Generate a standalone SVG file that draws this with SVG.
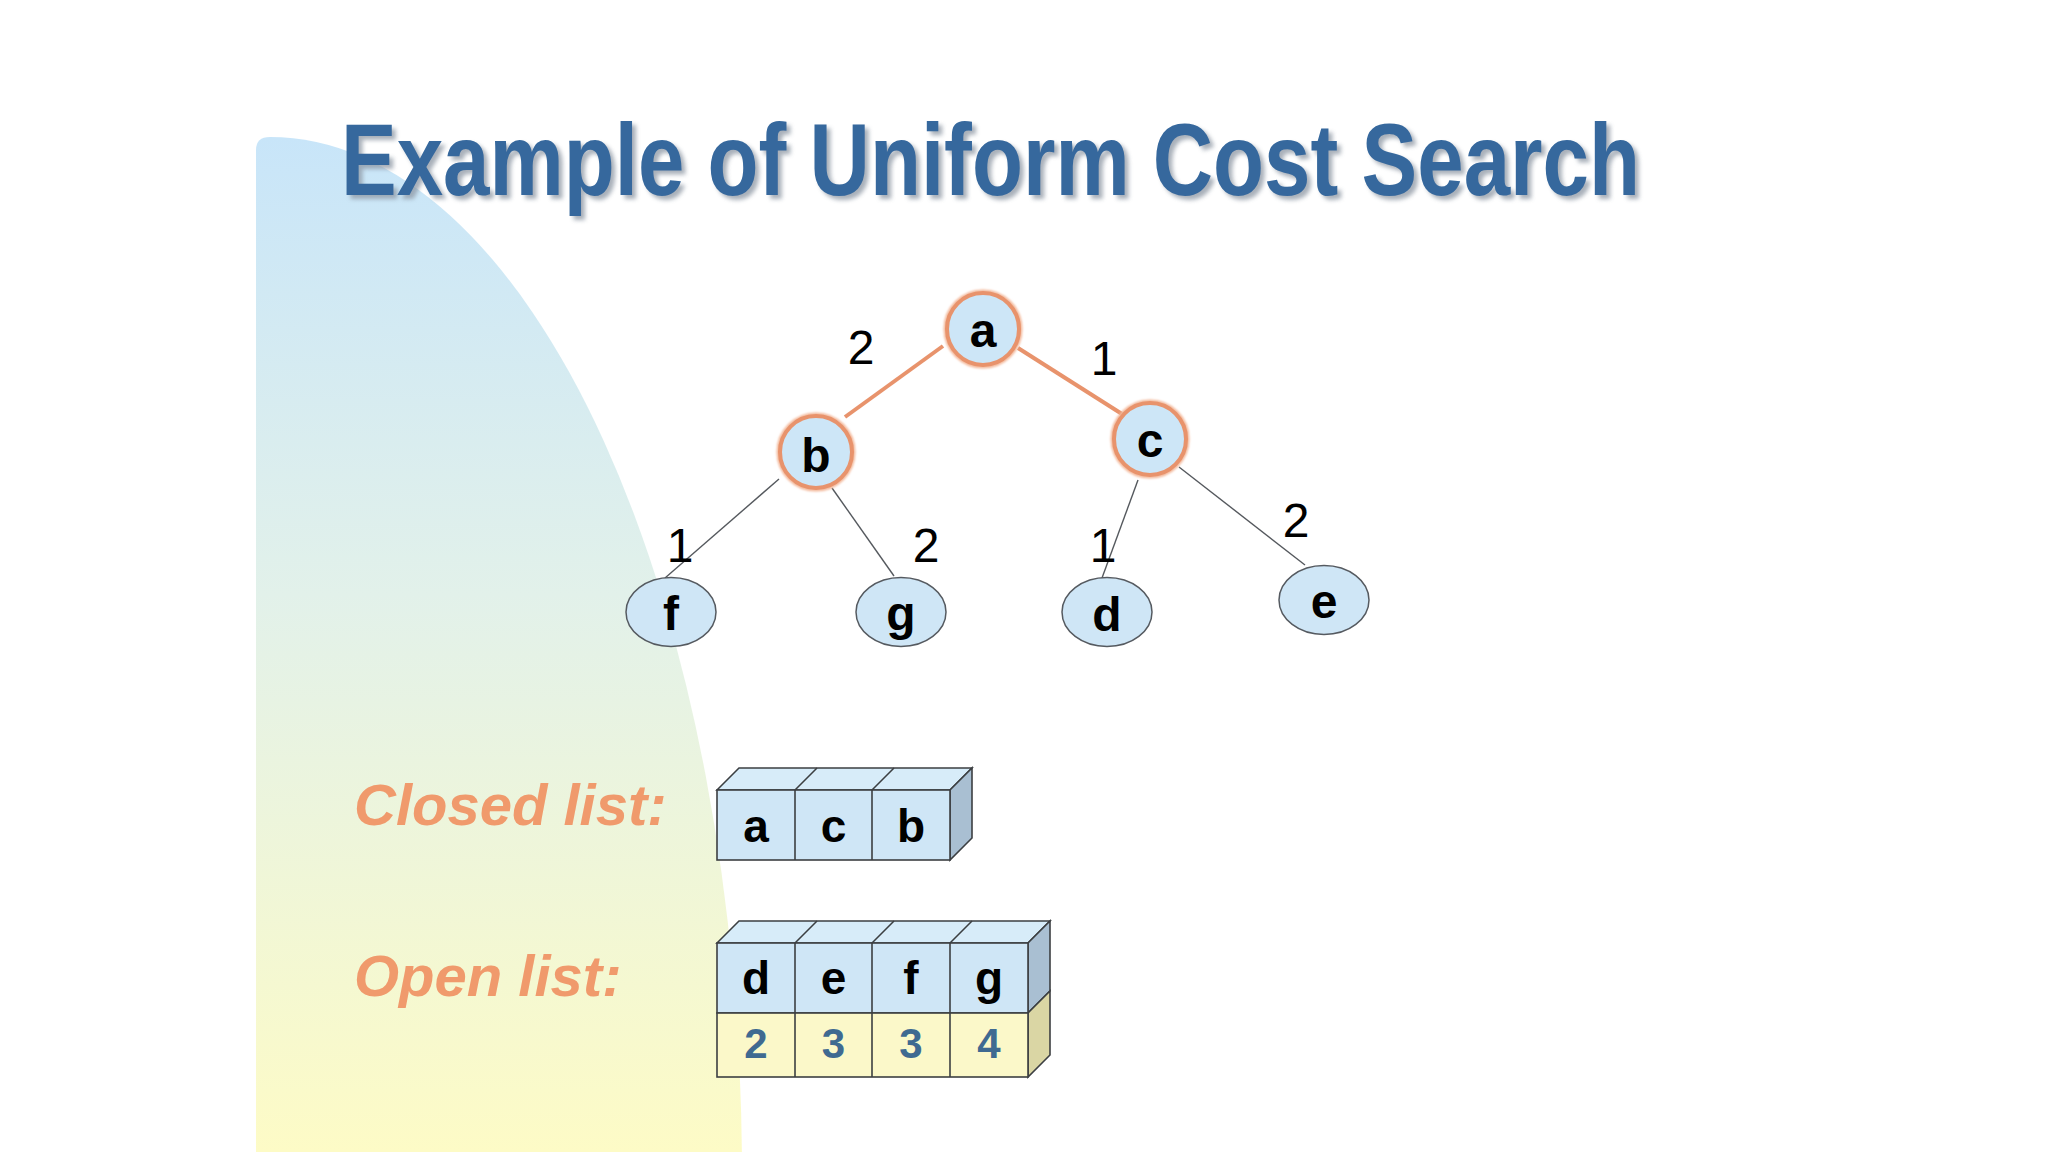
<svg xmlns="http://www.w3.org/2000/svg" width="2048" height="1152" viewBox="0 0 2048 1152">
  <defs>
    <linearGradient id="bgGrad" x1="0" y1="137" x2="0" y2="1152" gradientUnits="userSpaceOnUse">
      <stop offset="0" stop-color="#c8e5f9"/>
      <stop offset="0.45" stop-color="#e2f1ea"/>
      <stop offset="1" stop-color="#fdfbc6"/>
    </linearGradient>
    <filter id="shadowBlur" x="-5%" y="-20%" width="110%" height="140%">
      <feGaussianBlur stdDeviation="2"/>
    </filter>
    <filter id="glow" x="-30%" y="-30%" width="160%" height="160%">
      <feGaussianBlur stdDeviation="1.2"/>
    </filter>
  </defs>
  <style>
    .title { font-family: "Liberation Sans", Arial, sans-serif; font-weight: bold; font-size: 102px; }
    .node-closed { fill: #cde6f7; stroke: #e8936c; stroke-width: 4; }
    .node-open { fill: #cfe6f6; stroke: #555a60; stroke-width: 1.5; }
    .node-label { font-family: "Liberation Sans", Arial, sans-serif; font-weight: bold; font-size: 48px; fill: #000; text-anchor: middle; }
    .edge-label { font-family: "Liberation Sans", Arial, sans-serif; font-size: 48px; fill: #000; text-anchor: middle; }
    .edge-closed { stroke: #e8936c; stroke-width: 4; fill: none; }
    .edge-open { stroke: #55595e; stroke-width: 1.4; fill: none; }
    .list-label { font-family: "Liberation Sans", Arial, sans-serif; font-weight: bold; font-style: italic; font-size: 58px; fill: #f09a6c; }
    .cell-front { fill: #cfe6f6; stroke: #3c3f42; stroke-width: 1.6; }
    .cell-top { fill: #d7ecf9; stroke: #3c3f42; stroke-width: 1.6; }
    .cell-side { fill: #a9bfd2; stroke: #3c3f42; stroke-width: 1.6; }
    .cost-front { fill: #fbf8c9; stroke: #3c3f42; stroke-width: 1.6; }
    .cost-side { fill: #dad6a4; stroke: #3c3f42; stroke-width: 1.6; }
    .divider { stroke: #3c3f42; stroke-width: 1.6; fill: none; }
    .cell-letter { font-family: "Liberation Sans", Arial, sans-serif; font-weight: bold; font-size: 46px; fill: #000; text-anchor: middle; }
    .cost-num { font-family: "Liberation Sans", Arial, sans-serif; font-weight: bold; font-size: 42px; fill: #3f6a91; text-anchor: middle; }
  </style>

  <rect x="0" y="0" width="2048" height="1152" fill="#ffffff"/>
  <path id="background-shape" d="M256,1175 V150 Q256,137 270,137 A472,1038 0 0 1 742,1175 Z" fill="url(#bgGrad)"/>

  <g id="title">
    <text class="title" x="345" y="199" fill="#8c96a3" opacity="0.75" filter="url(#shadowBlur)" textLength="1299" lengthAdjust="spacingAndGlyphs">Example of Uniform Cost Search</text>
    <text class="title" x="341" y="195" fill="#36689d" textLength="1299" lengthAdjust="spacingAndGlyphs">Example of Uniform Cost Search</text>
  </g>

  <g id="connectors">
    <line class="edge-closed" x1="943" y1="346" x2="845" y2="417"/>
    <line class="edge-closed" x1="1018" y1="348" x2="1122" y2="414"/>
    <line class="edge-open" x1="779" y1="479" x2="665" y2="578"/>
    <line class="edge-open" x1="832" y1="488" x2="894" y2="576"/>
    <line class="edge-open" x1="1138" y1="480" x2="1102" y2="578"/>
    <line class="edge-open" x1="1179" y1="467" x2="1305" y2="565"/>
    <text class="edge-label" x="861" y="364">2</text>
    <text class="edge-label" x="1104" y="375">1</text>
    <text class="edge-label" x="680" y="562">1</text>
    <text class="edge-label" x="926" y="562">2</text>
    <text class="edge-label" x="1103" y="562">1</text>
    <text class="edge-label" x="1296" y="537">2</text>
  </g>

  <g id="node-a">
    <circle cx="983" cy="329" r="36" fill="none" stroke="#f3b89a" stroke-width="7" filter="url(#glow)"/>
    <circle class="node-closed" cx="983" cy="329" r="36"/>
    <text class="node-label" x="983" y="347">a</text>
  </g>
  <g id="node-b">
    <circle cx="816" cy="452" r="36" fill="none" stroke="#f3b89a" stroke-width="7" filter="url(#glow)"/>
    <circle class="node-closed" cx="816" cy="452" r="36"/>
    <text class="node-label" x="816" y="472">b</text>
  </g>
  <g id="node-c">
    <circle cx="1150" cy="439" r="36" fill="none" stroke="#f3b89a" stroke-width="7" filter="url(#glow)"/>
    <circle class="node-closed" cx="1150" cy="439" r="36"/>
    <text class="node-label" x="1150" y="457">c</text>
  </g>
  <g id="node-f">
    <ellipse class="node-open" cx="671" cy="612" rx="45" ry="34.5"/>
    <text class="node-label" x="671" y="630">f</text>
  </g>
  <g id="node-g">
    <ellipse class="node-open" cx="901" cy="612" rx="45" ry="34.5"/>
    <text class="node-label" x="901" y="630">g</text>
  </g>
  <g id="node-d">
    <ellipse class="node-open" cx="1107" cy="612" rx="45" ry="34.5"/>
    <text class="node-label" x="1107" y="631">d</text>
  </g>
  <g id="node-e">
    <ellipse class="node-open" cx="1324" cy="600" rx="45" ry="34.5"/>
    <text class="node-label" x="1324" y="618">e</text>
  </g>

  <g id="closed-list">
    <text class="list-label" x="354" y="825">Closed list:</text>
    <polygon class="cell-top" points="717,790 739,768 972,768 950,790"/>
    <polygon class="cell-side" points="950,790 972,768 972,838 950,860"/>
    <rect class="cell-front" x="717" y="790" width="233" height="70"/>
    <line class="divider" x1="795" y1="790" x2="795" y2="860"/>
    <line class="divider" x1="872" y1="790" x2="872" y2="860"/>
    <line class="divider" x1="795" y1="790" x2="817" y2="768"/>
    <line class="divider" x1="872" y1="790" x2="894" y2="768"/>
    <text class="cell-letter" x="756" y="842">a</text>
    <text class="cell-letter" x="833.5" y="842">c</text>
    <text class="cell-letter" x="911" y="842">b</text>
  </g>

  <g id="open-list">
    <text class="list-label" x="354" y="996">Open list:</text>
    <polygon class="cell-top" points="717,943 739,921 1050,921 1028,943"/>
    <polygon class="cell-side" points="1028,943 1050,921 1050,991 1028,1013"/>
    <polygon class="cost-side" points="1028,1013 1050,991 1050,1055 1028,1077"/>
    <rect class="cell-front" x="717" y="943" width="311" height="70"/>
    <rect class="cost-front" x="717" y="1013" width="311" height="64"/>
    <line class="divider" x1="795" y1="943" x2="795" y2="1077"/>
    <line class="divider" x1="872" y1="943" x2="872" y2="1077"/>
    <line class="divider" x1="950" y1="943" x2="950" y2="1077"/>
    <line class="divider" x1="795" y1="943" x2="817" y2="921"/>
    <line class="divider" x1="872" y1="943" x2="894" y2="921"/>
    <line class="divider" x1="950" y1="943" x2="972" y2="921"/>
    <text class="cell-letter" x="756" y="994">d</text>
    <text class="cell-letter" x="833.5" y="994">e</text>
    <text class="cell-letter" x="911" y="994">f</text>
    <text class="cell-letter" x="989" y="994">g</text>
    <text class="cost-num" x="756" y="1058">2</text>
    <text class="cost-num" x="833.5" y="1058">3</text>
    <text class="cost-num" x="911" y="1058">3</text>
    <text class="cost-num" x="989" y="1058">4</text>
  </g>
</svg>
